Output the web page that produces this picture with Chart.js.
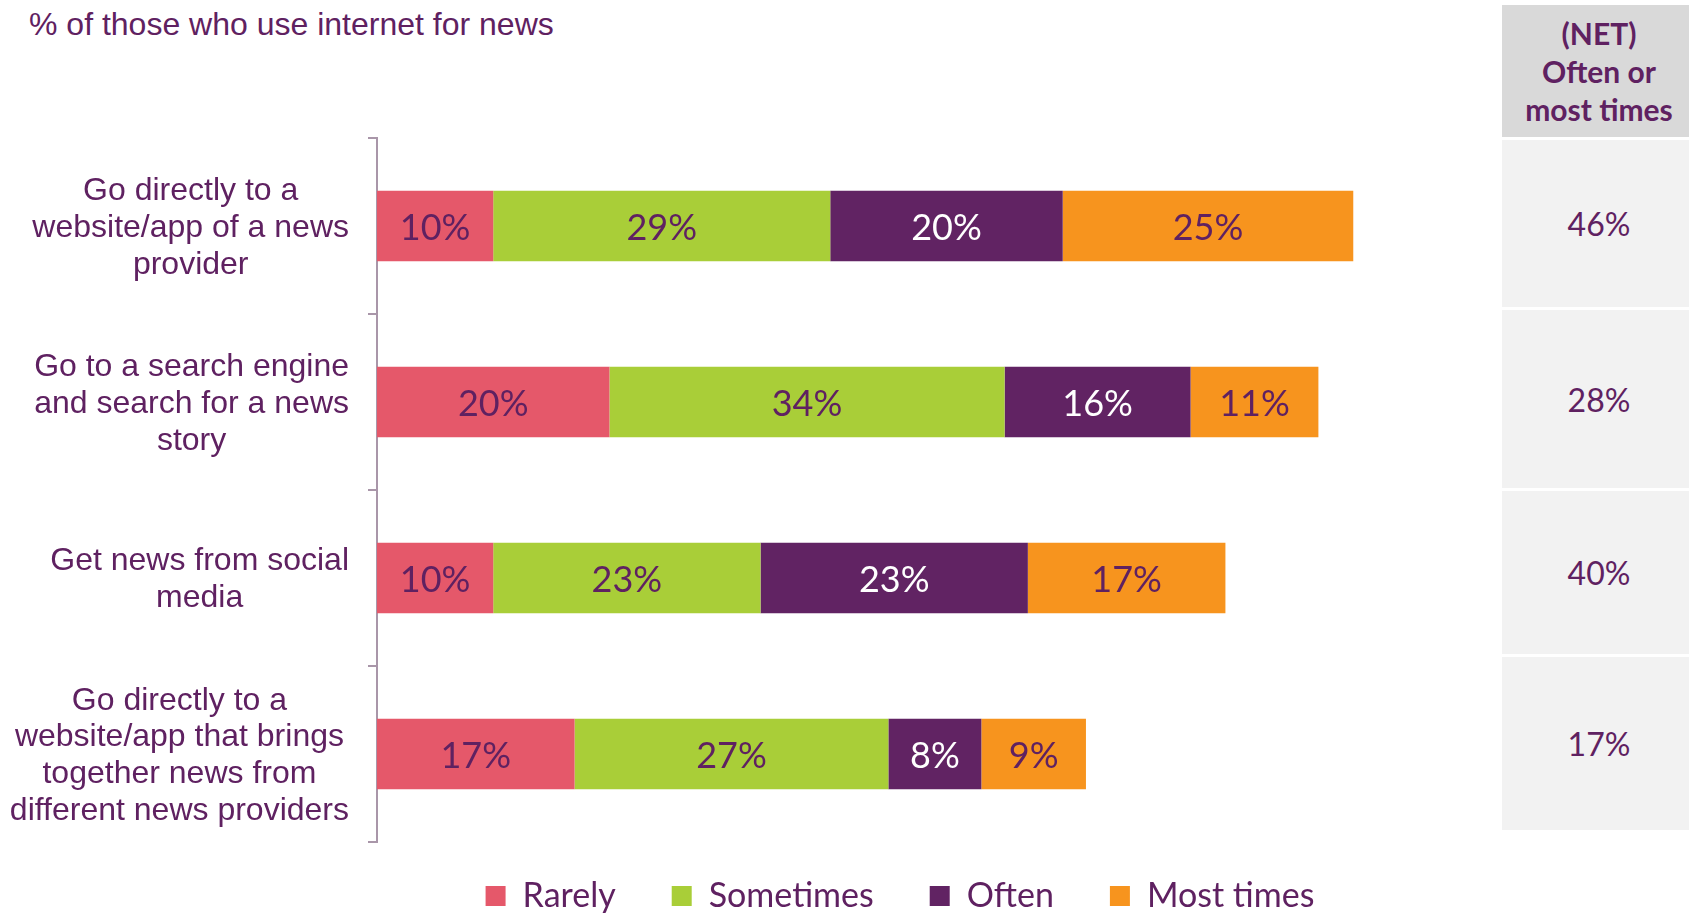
<!DOCTYPE html>
<html>
<head>
<meta charset="utf-8">
<title>Internet news use</title>
<script src="https://cdn.jsdelivr.net/npm/chart.js@4.4.1/dist/chart.umd.min.js"></script>
<style>
  body { margin: 0; width: 1689px; height: 916px; overflow: hidden; background: #fff; position: relative; }
  .title { position: absolute; left: 29px; top: 4px; font: 32px "Liberation Sans", Arial, sans-serif; color: #5f2161; line-height: 40px; white-space: nowrap; }
  #chartBox { position: absolute; left: 0; top: 0; }
  .net { position: absolute; left: 1502px; width: 187px; box-sizing: border-box; padding-left: 7px; display: flex; align-items: center; justify-content: center; text-align: center; color: #5f2161; font-family: Lato, sans-serif; }
  .net.head { top: 5px; height: 132px; background: #d9d9d9; font-weight: bold; font-size: 30px; line-height: 38px; }
  .net.cell { background: #f2f2f2; font-size: 32px; }
</style>
</head>
<body>
<div class="title">% of those who use internet for news</div>
<canvas id="chartBox" width="1480" height="942"></canvas>
<div id="netCol"></div>
<script>
const categories = [
  ['Go directly to a', 'website/app of a news', 'provider'],
  ['Go to a search engine', 'and search for a news', 'story'],
  ['Get news from social', 'media'],
  ['Go directly to a', 'website/app that brings', 'together news from', 'different news providers']
];
const rarely = [10, 20, 10, 17];
const sometimes = [29, 34, 23, 27];
const often = [20, 16, 23, 8];
const mostTimes = [25, 11, 17, 9];
const netOftenOrMost = ['46%', '28%', '40%', '17%'];

const purple = '#5f2161';
const barColors = ['#e5586a', '#a9ce38', '#612363', '#f7941e'];
const textColors = [purple, purple, '#ffffff', purple];

// NET column on the right (header + one cell per category)
const netCol = document.getElementById('netCol');
const head = document.createElement('div');
head.className = 'net head';
head.innerHTML = '(NET)<br>Often or<br>most times';
netCol.appendChild(head);
const cellRows = [[140, 307], [310, 488], [491, 654], [657, 830]];
netOftenOrMost.forEach((v, i) => {
  const d = document.createElement('div');
  d.className = 'net cell';
  d.style.top = cellRows[i][0] + 'px';
  d.style.height = (cellRows[i][1] - cellRows[i][0]) + 'px';
  d.textContent = v;
  netCol.appendChild(d);
});

// multi-line category names: block right-aligned to the axis, lines centred in the block
const categoryLabels = {
  id: 'categoryLabels',
  afterDraw(chart) {
    const { ctx } = chart;
    const y = chart.scales.y;
    const right = y.right - 28;
    ctx.save();
    ctx.font = '32px "Liberation Sans", Arial, sans-serif';
    ctx.fillStyle = purple;
    ctx.textAlign = 'center';
    ctx.textBaseline = 'middle';
    categories.forEach((lines, i) => {
      const widest = Math.max(...lines.map(l => ctx.measureText(l).width));
      const cx = right - widest / 2;
      const cy = y.getPixelForValue(i) + 2;
      lines.forEach((line, j) => {
        ctx.fillText(line, cx, cy + (j - (lines.length - 1) / 2) * 36.8);
      });
    });
    ctx.restore();
  }
};

// percentage inside each segment
const segmentLabels = {
  id: 'segmentLabels',
  afterDatasetsDraw(chart) {
    const { ctx } = chart;
    ctx.save();
    ctx.font = '36px Lato, sans-serif';
    ctx.textAlign = 'center';
    ctx.textBaseline = 'middle';
    chart.data.datasets.forEach((ds, di) => {
      ctx.fillStyle = textColors[di];
      chart.getDatasetMeta(di).data.forEach((bar, i) => {
        ctx.fillText(ds.data[i] + '%', (bar.x + bar.base) / 2, bar.y + 2);
      });
    });
    ctx.restore();
  }
};

// wide item spacing needs a big legend padding; pull the row back up under the axis
const legendLift = {
  id: 'legendLift',
  afterLayout(chart) {
    chart.legend.top -= 19;
    chart.legend.bottom -= 19;
  }
};

new Chart(document.getElementById('chartBox'), {
  type: 'bar',
  data: {
    labels: categories,
    datasets: [
      { label: 'Rarely', data: rarely, backgroundColor: barColors[0] },
      { label: 'Sometimes', data: sometimes, backgroundColor: barColors[1] },
      { label: 'Often', data: often, backgroundColor: barColors[2] },
      { label: 'Most times', data: mostTimes, backgroundColor: barColors[3] }
    ]
  },
  options: {
    indexAxis: 'y',
    responsive: false,
    animation: false,
    layout: { padding: { top: 138, right: 57, left: 0, bottom: 0 } },
    datasets: { bar: { barPercentage: 0.4, categoryPercentage: 1, borderWidth: 0 } },
    scales: {
      x: { stacked: true, min: 0, max: 90, display: false },
      y: {
        stacked: true,
        afterFit(scale) { scale.width = 377; },
        ticks: { display: false },
        grid: { offset: true, drawOnChartArea: false, drawTicks: true, tickLength: 9, color: '#a996a9', lineWidth: 2 },
        border: { display: true, color: '#a996a9', width: 2 }
      }
    },
    plugins: {
      legend: {
        position: 'bottom',
        fullSize: false,
        labels: { boxWidth: 20, boxHeight: 20, padding: 56, color: purple, font: { family: 'Lato', size: 34 } }
      },
      tooltip: { enabled: false }
    }
  },
  plugins: [categoryLabels, segmentLabels, legendLift]
});
</script>
</body>
</html>
